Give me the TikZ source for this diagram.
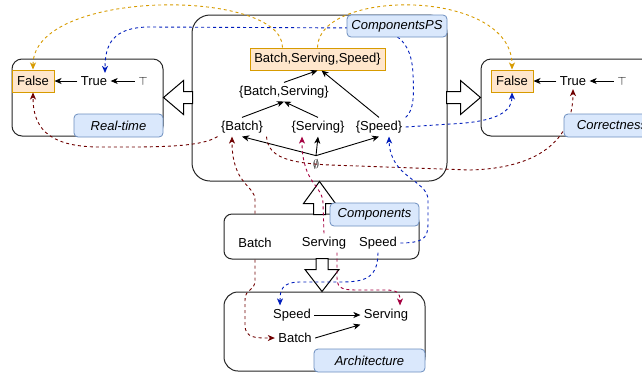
\documentclass[tikz,border=0pt]{standalone}
\usepackage{fontspec}
\setmainfont{Liberation Sans}
\usetikzlibrary{arrows.meta}

\definecolor{orangeB}{HTML}{D79B00}
\definecolor{orangeF}{HTML}{FFE6CC}
\definecolor{bleuB}{HTML}{6C8EBF}
\definecolor{bleuF}{HTML}{DAE8FC}
\definecolor{bleu}{HTML}{001DBC}
\definecolor{rougeF}{HTML}{6F0000}
\definecolor{cramoisi}{HTML}{A50040}

\begin{document}
\begin{tikzpicture}[x=1pt, y=-1pt, font=\fontsize{13}{15}\selectfont]
	\tikzset{boite/.style={draw=black!85, line width=1pt, rounded corners=10pt, fill=white, inner sep=0pt},
		etiquette/.style={draw=bleuB, fill=bleuF, line width=0.8pt, rounded corners=4pt, inner sep=0pt, font=\fontsize{13}{15}\selectfont\itshape},
		faux/.style={draw=orangeB, fill=orangeF, line width=1pt, inner sep=0pt},
		fleche/.style={-{Stealth[length=7pt, width=6pt, inset=2pt]}, line width=0.9pt},
		pointille/.style={fleche, dash pattern=on 3pt off 3pt},
		creux/.style={draw=black, fill=white, line width=1pt, line join=miter}};

	\useasboundingbox (0,0) rectangle (642,373);
	\clip (0,0) rectangle (642,373);

	% boites
	\node[boite, minimum width=255pt, minimum height=166pt, rounded corners=18pt] (cps) at (319.5, 98) {};
	\node[boite, minimum width=151pt, minimum height=77pt] (rt) at ( 87.5, 97.5) {};
	\node[boite, minimum width=179pt, minimum height=77pt] (cr) at (570.5, 97.5) {};
	\node[boite, minimum width=195pt, minimum height=45pt, rounded corners=8pt] (cmp) at (321.5,236.5) {};
	\node[boite, minimum width=201pt, minimum height=79pt, rounded corners=14pt] (arch) at (324.5,331.5) {};

	% grosses fleches
	\draw[creux] (rt.east) -- ++(20,-17) -- ++(0,11) -- ++(9,0) -- ++(0,12) -- ++(-9,0) -- ++(0,11) -- cycle;
	\draw[creux] (cr.west) -- ++(-20,-17) -- ++(0,11) -- ++(-14,0) -- ++(0,12) -- ++(14,0) -- ++(0,11) -- cycle;
	\draw[creux] (cps.south) -- ++(-16,22) -- ++(10,0) -- ++(0,11) -- ++(12,0) -- ++(0,-11) -- ++(10,0) -- cycle;
	\draw[creux] ([xshift=-2.5pt]arch.north) -- ++(-17,-22) -- ++(11,0) -- ++(0,-11) -- ++(12,0) -- ++(0,11) -- ++(11,0) -- cycle;

	% treillis
	\node[faux, minimum width=135pt, minimum height=22pt] (all) at (317.5, 59) {Batch,Serving,Speed\}};
	\node (bs) at (284, 92) {\{Batch,Serving\}};
	\node (b)  at (242,127) {\{Batch\}};
	\node (s)  at (318,127) {\{Serving\}};
	\node (sp) at (379,127) {\{Speed\}};
	\node (e)  at (316,164) {$\emptyset$};

	% temps reel
	\node[faux, minimum width=42pt, minimum height=22pt] (rtF) at ( 33, 81) {False};
	\node (rtT)   at ( 94, 81) {True};
	\node (rtTop) at (143, 81) {$\top$};

	% correction
	\node[faux, minimum width=42pt, minimum height=22pt] (crF) at (512, 81) {False};
	\node (crT)   at (573, 81) {True};
	\node (crTop) at (622, 81) {$\top$};

	% composants
	\node (cB)  at (255,243) {Batch};
	\node (cS)  at (324,243) {Serving};
	\node (cSp) at (378,243) {Speed};

	% architecture
	\node (aSp) at (292,315) {Speed};
	\node (aS)  at (386,315) {Serving};
	\node (aB)  at (295,338) {Batch};

	\draw[fleche] (bs.north) to (all.south);
	\draw[fleche] (sp.north) to ([xshift=4pt]all.south);
	\draw[fleche] (b.north) to (bs.south);
	\draw[fleche] (s.north) to (bs.south);
	\draw[fleche] (e.north) to (b.south);
	\draw[fleche] (e.north) to (s.south);
	\draw[fleche] (e.north) to (sp.south);
	\draw[fleche] (rtTop.west) to (rtT.east);
	\draw[fleche] (rtT.west) to (rtF.east);
	\draw[fleche] (crTop.west) to (crT.east);
	\draw[fleche] (crT.west) to (crF.east);
	\draw[fleche] (aSp.east) to (aS.west);
	\draw[fleche] (aB.east) to (aS.south west);

	% liens pointilles
	\draw[pointille, orangeB] ([xshift=-35pt]all.north) .. controls (283,-12) and (33,-12) .. (rtF.north);
	\draw[pointille, orangeB] (all.north) .. controls (318,-12) and (512,-12) .. (crF.north);
	\draw[pointille, bleu] (sp.north east) .. controls (414,110) and (414,95) .. (413,75) .. controls (412,40) and (395,28) .. (360,28) -- (150,27) .. controls (112,27) and (105,45) .. ([xshift=11pt]rtT.north);
	\draw[pointille, bleu] (sp.east) -- (450,124) .. controls (500,122) and (512,110) .. (crF.south);
	\draw[pointille, rougeF] (b.south west) .. controls (200,148) and (150,147) .. (100,147) .. controls (45,147) and (33,125) .. (rtF.south);
	\draw[pointille, rougeF] (b.south east) .. controls (268,158) and (290,163) .. (330,165) -- (470,170) .. controls (545,168) and (573,135) .. (crT.south);
	\draw[pointille, rougeF] (cB |- cmp.north) -- (255,200) .. controls (255,185) and (232,185) .. ([xshift=-10pt]b.south);
	\draw[pointille, rougeF] (cB |- cmp.south) -- (255,280) .. controls (255,292) and (245,288) .. (245,300) -- (245,325) .. controls (245,338) and (255,338) .. (aB.west);
	\draw[pointille, cramoisi] (cS.north) -- (323,205) .. controls (324,185) and (302,185) .. ([xshift=-16pt]s.south);
	\draw[pointille, cramoisi] ([xshift=13pt]cS.south) -- (337,278) .. controls (337,290) and (345,290) .. (360,290) -- (385,290) .. controls (398,290) and (400,293) .. ([xshift=14pt]aS.north);
	\draw[pointille, bleu] (cSp.east) .. controls (428,243) and (428,235) .. (428,220) -- (428,200) .. controls (428,180) and (390,178) .. ([xshift=10pt]sp.south);
	\draw[pointille, bleu] (cSp.south) .. controls (378,282) and (360,282) .. (335,282) -- (300,282) .. controls (282,282) and (280,290) .. ([xshift=-12pt]aSp.north);

	% etiquettes
	\node[etiquette, minimum width=100pt, minimum height=22pt] (cpsL)  at (397, 26) {ComponentsPS};
	\node[etiquette, minimum width=89pt,  minimum height=23pt] (rtL)   at (118.5,125.5) {Real-time};
	\node[etiquette, minimum width=96pt,  minimum height=23pt] (crL)   at (612,125.5) {Correctness};
	\node[etiquette, minimum width=89pt,  minimum height=23pt] (cmpL)  at (374.5,214.5) {Components};
	\node[etiquette, minimum width=111pt, minimum height=23pt] (archL) at (369.5,360.5) {Architecture};
\end{tikzpicture}
\end{document}
